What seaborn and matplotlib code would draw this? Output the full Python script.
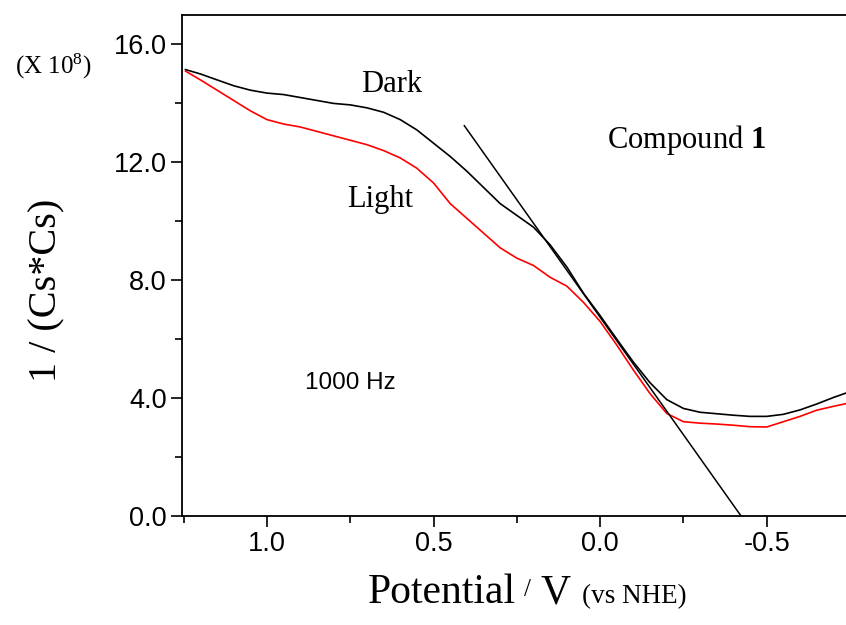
import matplotlib
matplotlib.use('Agg')
import matplotlib.pyplot as plt
import seaborn as sns
import numpy as np

# Mott-Schottky: 1/Cs^2 vs potential, dark / light, 1000 Hz

potential = [1.245, 1.2, 1.15, 1.1, 1.05, 1.0, 0.95, 0.9, 0.85, 0.8, 0.75,
             0.7, 0.65, 0.6, 0.55, 0.5, 0.45, 0.4, 0.35, 0.3, 0.25, 0.2,
             0.15, 0.1, 0.05, 0.0, -0.05, -0.1, -0.15, -0.2, -0.25, -0.3,
             -0.35, -0.4, -0.45, -0.5, -0.55, -0.6, -0.65, -0.7, -0.745]

dark = [15.15, 15.0, 14.8, 14.6, 14.45, 14.35, 14.3, 14.2, 14.1, 14.0, 13.95,
        13.85, 13.7, 13.45, 13.1, 12.65, 12.2, 11.7, 11.15, 10.6, 10.2, 9.8,
        9.2, 8.45, 7.56, 6.8, 6.0, 5.22, 4.52, 3.95, 3.65, 3.52,
        3.47, 3.42, 3.38, 3.38, 3.45, 3.6, 3.8, 4.02, 4.2]

light = [15.1, 14.8, 14.45, 14.1, 13.75, 13.45, 13.3, 13.2, 13.05, 12.9, 12.75,
         12.6, 12.4, 12.15, 11.8, 11.3, 10.6, 10.1, 9.6, 9.1, 8.75, 8.5,
         8.1, 7.8, 7.25, 6.6, 5.8, 4.95, 4.15, 3.48, 3.2, 3.15,
         3.12, 3.08, 3.03, 3.02, 3.2, 3.38, 3.59, 3.72, 3.83]

# tangent line (flat band extrapolation)
fit_x = [0.408, -0.423]
fit_y = [13.25, 0.0]

sns.set_style('ticks')
plt.rcParams['font.family'] = ['Liberation Sans', 'DejaVu Sans']
plt.rcParams['text.color'] = 'black'
plt.rcParams['xtick.color'] = 'black'
plt.rcParams['ytick.color'] = 'black'
plt.rcParams['xtick.labelcolor'] = 'black'
plt.rcParams['ytick.labelcolor'] = 'black'
plt.rcParams['mathtext.fontset'] = 'custom'
plt.rcParams['mathtext.rm'] = 'Liberation Serif'
plt.rcParams['mathtext.bf'] = 'Liberation Serif:bold'
plt.rcParams['mathtext.it'] = 'Liberation Serif:italic'

W, H = 846, 625
fig = plt.figure(figsize=(8.46, 6.25), dpi=100)
ax = fig.add_axes([182 / W, (H - 516) / H, (849 - 182) / W, (516 - 15) / H])

sns.lineplot(x=potential, y=dark, ax=ax, color='black', lw=1.2,
             estimator=None, sort=False)
sns.lineplot(x=potential, y=light, ax=ax, color='#ff0000', lw=1.2,
             estimator=None, sort=False)
sns.lineplot(x=fit_x, y=fit_y, ax=ax, color='black', lw=1.1,
             estimator=None, sort=False)

ax.set_xlim(1.255, -0.747)
ax.set_ylim(0, 17.0)
ax.set_xticks([1.0, 0.5, 0.0, -0.5])
ax.set_xticklabels(['1.0', '0.5', '0.0', '-0.5'])
ax.set_xticks([1.25, 0.75, 0.25, -0.25], minor=True)
ax.set_yticks([0, 4, 8, 12, 16])
ax.set_yticklabels(['0.0', '4.0', '8.0', '12.0', '16.0'])
ax.set_yticks([2, 6, 10, 14], minor=True)
ax.tick_params(which='major', direction='out', length=8, width=1.2,
               labelsize=19.5, pad=3, color='black')
ax.tick_params(which='minor', direction='out', length=5, width=1.2,
               color='black')
for s in ax.spines.values():
    s.set_linewidth(1.3)
    s.set_color('black')
ax.set_xlabel('')
ax.set_ylabel('')


def ft(x, y, s, **kw):
    # pixel coords of the reference -> figure fraction
    fig.text(x / W, 1 - y / H, s, **kw)


serif = 'Liberation Serif'
ft(392, 92, 'Dark', family=serif, fontsize=22, ha='center', va='baseline')
ft(380, 207, 'Light', family=serif, fontsize=22, ha='center', va='baseline')
ft(686, 148, r'Compound $\mathbf{1}$', family=serif, fontsize=22,
   ha='center', va='baseline')
ft(350, 383, '1000 Hz', fontsize=17.5, ha='center', va='center')
ft(53, 66, r'(X 10$^{\mathrm{8}}$)', family=serif, fontsize=18,
   ha='center', va='center')

# axis titles
ft(47, 290, '1 / (Cs*Cs)', family=serif, fontsize=29, rotation=90,
   ha='center', va='center')
ft(368, 603, 'Potential', family=serif, fontsize=30, ha='left', va='baseline')
ft(524, 596, '/', family=serif, fontsize=18, ha='left', va='baseline')
ft(540, 603, 'V', family=serif, fontsize=30, ha='left', va='baseline')
ft(582, 603, '(vs NHE)', family=serif, fontsize=19.5, ha='left', va='baseline')

fig.savefig('out.png', dpi=100)
